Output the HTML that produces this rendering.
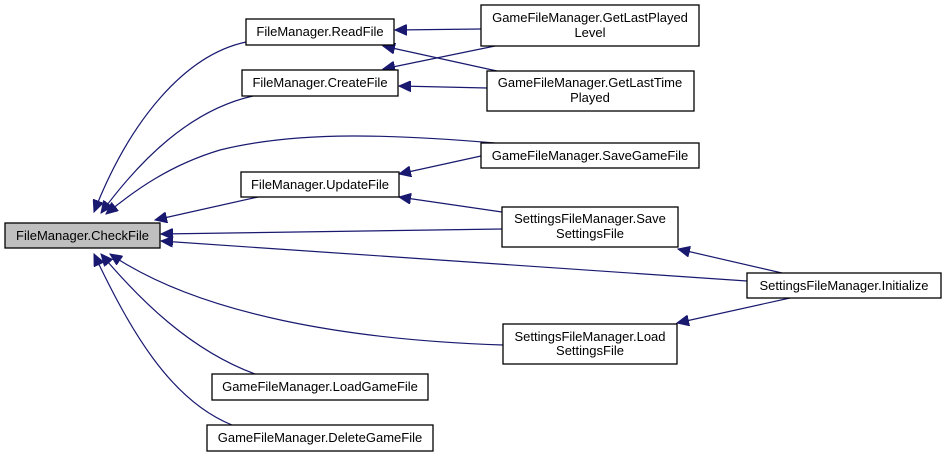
<!DOCTYPE html>
<html><head><meta charset="utf-8"><style>
body{margin:0;background:#fff;}
svg{display:block}
text{font-family:"Liberation Sans",Helvetica,sans-serif;font-size:13px;fill:#000;text-anchor:middle}
rect{fill:#fff;stroke:#000;stroke-width:1.3}
path{fill:none;stroke:#191970;stroke-width:1.2}
</style></head><body>
<svg width="947" height="457" viewBox="0 0 947 457">
<defs>
<marker id="a" markerUnits="userSpaceOnUse" markerWidth="13" markerHeight="11" refX="12" refY="5.5" orient="auto">
<path d="M0,0 L12,5.5 L0,11 Z" style="fill:#191970;stroke:#191970;stroke-width:1"/>
</marker>
</defs>
<g marker-end="url(#a)">
<path d="M246,42 C185,55 130,120 94,212"/>
<path d="M253,96 C190,110 140,160 101,213"/>
<path d="M495,143 C400,135 300,130 220,150 C170,165 135,190 106,214"/>
<path d="M258,197 L155,220"/>
<path d="M502,229 L161,234"/>
<path d="M747,281 L161,241"/>
<path d="M503,345 C350,340 200,315 110,254"/>
<path d="M255,374 C190,350 140,300 101,254"/>
<path d="M232,425 C170,400 130,330 94,254"/>
<path d="M481,29 L395,30"/>
<path d="M495,46 L383,69"/>
<path d="M497,71 L383,46"/>
<path d="M487,88 L399,86"/>
<path d="M481,156 L399,174"/>
<path d="M502,212 L399,197"/>
<path d="M782,273 L678,249"/>
<path d="M790,298 L677,323"/>
</g>
<rect x="5" y="223" width="155" height="25" style="fill:#bfbfbf"/><text x="82.5" y="240">FileManager.CheckFile</text>
<rect x="246" y="19" width="148" height="26"/><text x="320" y="36">FileManager.ReadFile</text>
<rect x="242" y="70" width="156" height="26"/><text x="320" y="87">FileManager.CreateFile</text>
<rect x="241" y="172" width="158" height="25"/><text x="320" y="189">FileManager.UpdateFile</text>
<rect x="481" y="5" width="218" height="41"/><text x="590" y="22">GameFileManager.GetLastPlayed</text><text x="590" y="37">Level</text>
<rect x="487" y="71" width="207" height="40"/><text x="590" y="87">GameFileManager.GetLastTime</text><text x="590" y="102">Played</text>
<rect x="481" y="143" width="218" height="25"/><text x="590" y="160">GameFileManager.SaveGameFile</text>
<rect x="502" y="207" width="176" height="40"/><text x="590" y="223">SettingsFileManager.Save</text><text x="590" y="238">SettingsFile</text>
<rect x="747" y="273" width="194" height="25"/><text x="844" y="290">SettingsFileManager.Initialize</text>
<rect x="503" y="324" width="174" height="40"/><text x="590" y="341">SettingsFileManager.Load</text><text x="590" y="355">SettingsFile</text>
<rect x="212" y="374" width="216" height="26"/><text x="320" y="391">GameFileManager.LoadGameFile</text>
<rect x="207" y="425" width="226" height="26"/><text x="320" y="442">GameFileManager.DeleteGameFile</text>
</svg>
</body></html>
